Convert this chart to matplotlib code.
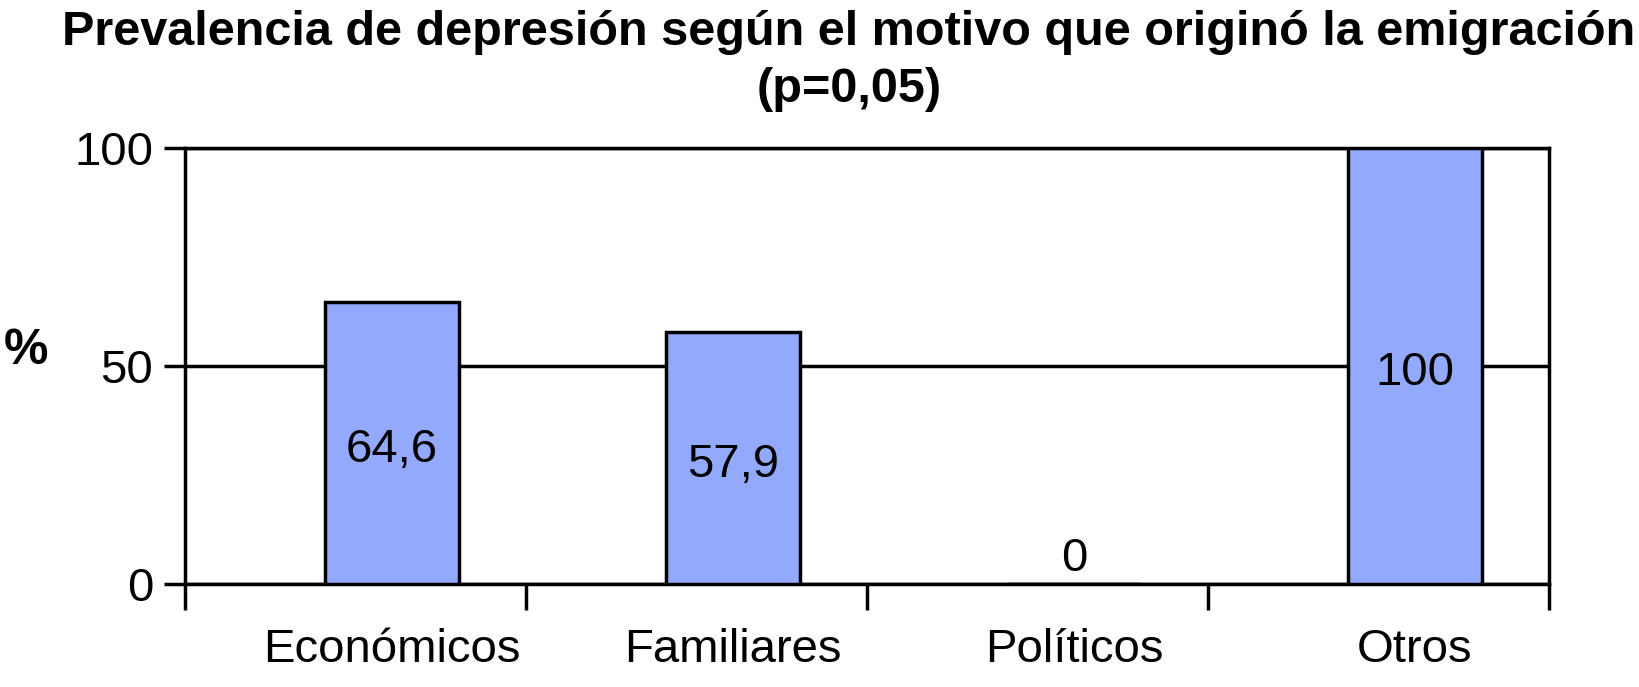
import numpy as np
import matplotlib.pyplot as plt

plt.rcParams['font.family'] = ['Liberation Sans', 'DejaVu Sans']

# Datos
motivos = ["Económicos", "Familiares", "Políticos", "Otros"]
prevalencia = [64.6, 57.9, 0, 100]
etiquetas = ["64,6", "57,9", "0", "100"]

fig = plt.figure(figsize=(16.39, 6.87), dpi=100)
ax = fig.add_axes([0.1129, 0.1499, 0.8322, 0.6347])

x = np.arange(len(motivos))
ax.bar(x, prevalencia, width=0.393, color="#93a9fb", edgecolor="black",
       linewidth=2.5, zorder=3)

for xi, v, lab in zip(x, prevalencia, etiquetas):
    y = v / 2 if v > 0 else 7.3
    ax.annotate(lab, (xi, y), xytext=(0, -5), textcoords="offset points",
                ha="center", va="center", fontsize=34, zorder=4)

ax.set_xlim(-0.607, 3.393)
ax.set_ylim(0, 100)
ax.set_yticks([0, 50, 100])
ax.set_xticks(x)
ax.set_xticklabels(motivos)
ax.set_xticks(np.arange(5) - 0.607, minor=True)
ax.tick_params(axis="x", which="major", length=0, pad=32, labelsize=34)
ax.tick_params(axis="x", which="minor", length=19, width=2.5, direction="out")
ax.tick_params(axis="y", length=15, width=2.5, pad=8, labelsize=34)

ax.yaxis.grid(True, color="black", linewidth=2.5, zorder=0)
for s in ax.spines.values():
    s.set_linewidth(2.5)

fig.text(0.016, 0.489, "%", fontsize=36, fontweight="bold", ha="center", va="center")
fig.text(0.518, 0.952, "Prevalencia de depresión según el motivo que originó la emigración",
         fontsize=35, fontweight="bold", ha="center", va="center")
fig.text(0.518, 0.870, "(p=0,05)", fontsize=35, fontweight="bold", ha="center", va="center")

fig.savefig("out.png", dpi=100)
